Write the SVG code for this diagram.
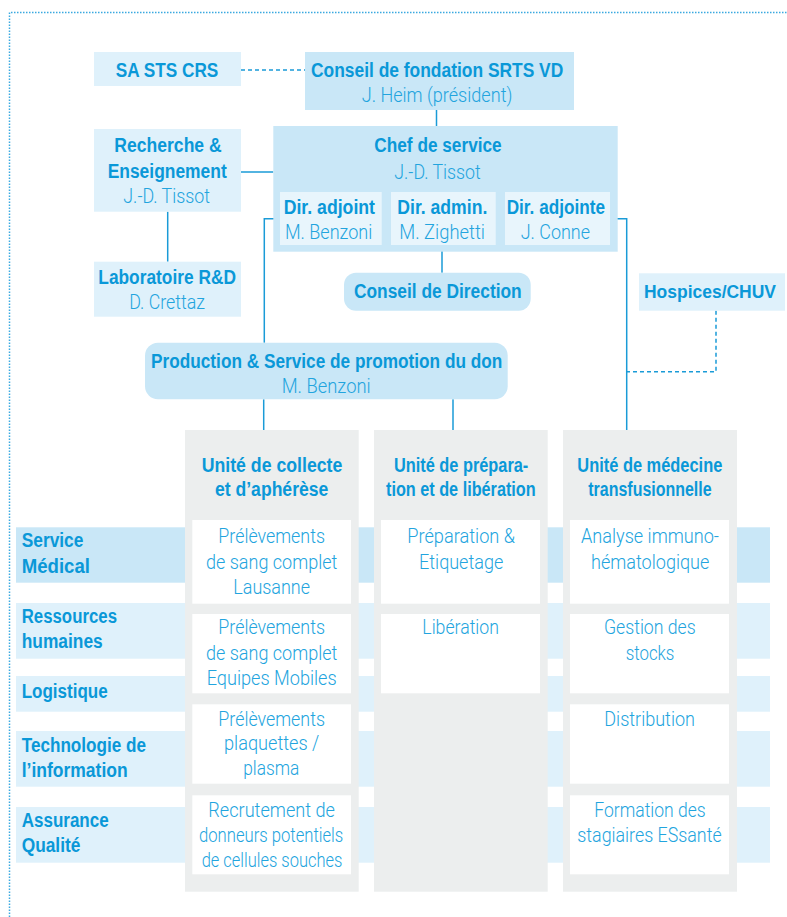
<svg xmlns="http://www.w3.org/2000/svg" width="787" height="917" viewBox="0 0 787 917">
<style>
.b{font-family:"Liberation Sans",Arial,sans-serif;font-weight:bold;font-size:20px;fill:#0a98d8}
.l{font-family:Roboto,"Liberation Sans",Arial,sans-serif;font-weight:300;font-size:19.5px;fill:#22a4de}
.med{fill:#c9e7f7}
.lt{fill:#dff1fb}
.sub{fill:#e8f5fc}
.grey{fill:#eceeee}
.cell{fill:#ffffff}
.ln{stroke:#1a9bd7;stroke-width:1.5;fill:none}
.dash{stroke:#1a9bd7;stroke-width:1.5;fill:none;stroke-dasharray:4 3}
.frame{stroke:#3aa9e0;stroke-width:1.5;fill:none;stroke-dasharray:1.5 1.5}
</style>
<rect width="787" height="917" fill="#ffffff"/>
<g id="frame">
<path class="frame" d="M9.5,917 V12.5 H787"/>
</g>
<g id="bands">
<rect class="med" x="16" y="527.3" width="754" height="55.4"/>
<rect class="lt" x="16" y="603" width="754" height="55.7"/>
<rect class="lt" x="16" y="676" width="754" height="35.7"/>
<rect class="lt" x="16" y="731" width="754" height="55.7"/>
<rect class="lt" x="16" y="807" width="754" height="55.7"/>
<text class="b" x="21.7" y="547.3" textLength="61.7" lengthAdjust="spacingAndGlyphs">Service</text>
<text class="b" x="21.7" y="572.7" textLength="68.3" lengthAdjust="spacingAndGlyphs">Médical</text>
<text class="b" x="21.7" y="622.7" textLength="95.3" lengthAdjust="spacingAndGlyphs">Ressources</text>
<text class="b" x="21.7" y="648.3" textLength="81" lengthAdjust="spacingAndGlyphs">humaines</text>
<text class="b" x="21.7" y="698.3" textLength="86" lengthAdjust="spacingAndGlyphs">Logistique</text>
<text class="b" x="21.7" y="751.7" textLength="124.3" lengthAdjust="spacingAndGlyphs">Technologie de</text>
<text class="b" x="21.7" y="776.7" textLength="106" lengthAdjust="spacingAndGlyphs">l’information</text>
<text class="b" x="21.7" y="826.7" textLength="87" lengthAdjust="spacingAndGlyphs">Assurance</text>
<text class="b" x="21.7" y="852.3" textLength="58.7" lengthAdjust="spacingAndGlyphs">Qualité</text>
</g>
<g id="connectors">
<line class="dash" x1="241" y1="70" x2="305" y2="70"/>
<line class="ln" x1="436.5" y1="110" x2="436.5" y2="126"/>
<line class="ln" x1="241" y1="172" x2="273.3" y2="172"/>
<line class="ln" x1="167.7" y1="211.7" x2="167.7" y2="261.7"/>
<line class="ln" x1="442" y1="245" x2="442" y2="272.7"/>
<path class="ln" d="M280,218.7 H264.3 V342.7"/>
<path class="ln" d="M610,218.7 H626.7 V430"/>
<path class="dash" d="M716,310.7 V371.7 H626.7"/>
<line class="ln" x1="263.7" y1="399.3" x2="263.7" y2="430"/>
<line class="ln" x1="453" y1="399.3" x2="453" y2="430"/>
</g>
<g id="sa-sts-crs">
<rect class="lt" x="94" y="52" width="147" height="34"/>
<text class="b" x="115.7" y="77.3" textLength="102.6" lengthAdjust="spacingAndGlyphs">SA STS CRS</text>
</g>
<g id="conseil-fondation">
<rect class="med" x="305" y="52" width="269" height="58"/>
<text class="b" x="311" y="77.3" textLength="252.3" lengthAdjust="spacingAndGlyphs">Conseil de fondation SRTS VD</text>
<text class="l" x="361.7" y="101.5" textLength="150.7" lengthAdjust="spacingAndGlyphs">J. Heim (président)</text>
</g>
<g id="recherche">
<rect class="lt" x="94" y="129" width="147" height="82.7"/>
<text class="b" x="114.3" y="152.3" textLength="107.4" lengthAdjust="spacingAndGlyphs">Recherche &amp;</text>
<text class="b" x="107.7" y="178" textLength="119" lengthAdjust="spacingAndGlyphs">Enseignement</text>
<text class="l" x="123.3" y="203.3" textLength="86.7" lengthAdjust="spacingAndGlyphs">J.-D. Tissot</text>
</g>
<g id="chef">
<rect class="med" x="273.3" y="126" width="344.4" height="125.7"/>
<text class="b" x="374.3" y="152.3" textLength="127.4" lengthAdjust="spacingAndGlyphs">Chef de service</text>
<text class="l" x="394.3" y="178.7" textLength="86.4" lengthAdjust="spacingAndGlyphs">J.-D. Tissot</text>
</g>
<g id="dir-adjoint">
<rect class="sub" x="280" y="192" width="101.7" height="53"/>
<text class="b" x="283.7" y="214" textLength="91.3" lengthAdjust="spacingAndGlyphs">Dir. adjoint</text>
<text class="l" x="285" y="239" textLength="87.3" lengthAdjust="spacingAndGlyphs">M. Benzoni</text>
</g>
<g id="dir-admin">
<rect class="sub" x="391" y="192" width="104.7" height="53"/>
<text class="b" x="397.3" y="214" textLength="90" lengthAdjust="spacingAndGlyphs">Dir. admin.</text>
<text class="l" x="399.3" y="239" textLength="85.7" lengthAdjust="spacingAndGlyphs">M. Zighetti</text>
</g>
<g id="dir-adjointe">
<rect class="sub" x="505" y="192" width="105" height="53"/>
<text class="b" x="506.7" y="214" textLength="98.3" lengthAdjust="spacingAndGlyphs">Dir. adjointe</text>
<text class="l" x="520.7" y="239" textLength="69.3" lengthAdjust="spacingAndGlyphs">J. Conne</text>
</g>
<g id="laboratoire">
<rect class="lt" x="94" y="261.7" width="147" height="55"/>
<text class="b" x="98.3" y="284.3" textLength="137.7" lengthAdjust="spacingAndGlyphs">Laboratoire R&amp;D</text>
<text class="l" x="129.3" y="309.3" textLength="75.7" lengthAdjust="spacingAndGlyphs">D. Crettaz</text>
</g>
<g id="conseil-direction">
<rect class="med" x="344" y="272.7" width="186.7" height="38" rx="12"/>
<text class="b" x="354" y="297.7" textLength="167.7" lengthAdjust="spacingAndGlyphs">Conseil de Direction</text>
</g>
<g id="hospices">
<rect class="lt" x="639" y="273.3" width="146" height="37.4"/>
<text class="b" x="644" y="297.7" style="font-size:18.5px" textLength="132" lengthAdjust="spacingAndGlyphs">Hospices/CHUV</text>
</g>
<g id="production">
<rect class="med" x="145" y="342.7" width="362.7" height="56.6" rx="13"/>
<text class="b" x="151" y="367.7" textLength="351.3" lengthAdjust="spacingAndGlyphs">Production &amp; Service de promotion du don</text>
<text class="l" x="281.7" y="392.7" textLength="89" lengthAdjust="spacingAndGlyphs">M. Benzoni</text>
</g>
<g id="unite-collecte">
<rect class="grey" x="185" y="430" width="173.7" height="461.7"/>
<text class="b" x="201.7" y="471.7" textLength="140.6" lengthAdjust="spacingAndGlyphs">Unité de collecte</text>
<text class="b" x="215" y="496" textLength="113.3" lengthAdjust="spacingAndGlyphs">et d’aphérèse</text>
<rect class="cell" x="192.3" y="520" width="158.7" height="83.7"/>
<text class="l" x="218.3" y="543.3" textLength="106.7" lengthAdjust="spacingAndGlyphs">Prélèvements</text>
<text class="l" x="206" y="569" textLength="131.3" lengthAdjust="spacingAndGlyphs">de sang complet</text>
<text class="l" x="233.3" y="594.3" textLength="76.7" lengthAdjust="spacingAndGlyphs">Lausanne</text>
<rect class="cell" x="192.3" y="614" width="158.7" height="79.3"/>
<text class="l" x="218.3" y="634" textLength="106.7" lengthAdjust="spacingAndGlyphs">Prélèvements</text>
<text class="l" x="206" y="659.7" textLength="131.3" lengthAdjust="spacingAndGlyphs">de sang complet</text>
<text class="l" x="206.7" y="685" textLength="130" lengthAdjust="spacingAndGlyphs">Equipes Mobiles</text>
<rect class="cell" x="192.3" y="704.3" width="158.7" height="79.4"/>
<text class="l" x="218.3" y="725.7" textLength="106.7" lengthAdjust="spacingAndGlyphs">Prélèvements</text>
<text class="l" x="224" y="750" textLength="95.3" lengthAdjust="spacingAndGlyphs">plaquettes /</text>
<text class="l" x="243.3" y="775" textLength="56" lengthAdjust="spacingAndGlyphs">plasma</text>
<rect class="cell" x="192.3" y="795.3" width="158.7" height="79"/>
<text class="l" x="208.3" y="816.7" textLength="126.7" lengthAdjust="spacingAndGlyphs">Recrutement de</text>
<text class="l" x="199" y="841.7" textLength="144.3" lengthAdjust="spacingAndGlyphs">donneurs potentiels</text>
<text class="l" x="201.7" y="866.7" textLength="140.7" lengthAdjust="spacingAndGlyphs">de cellules souches</text>
</g>
<g id="unite-preparation">
<rect class="grey" x="374" y="430" width="173.7" height="461.7"/>
<text class="b" x="394" y="471.7" textLength="134.3" lengthAdjust="spacingAndGlyphs">Unité de prépara-</text>
<text class="b" x="386" y="496" textLength="149.7" lengthAdjust="spacingAndGlyphs">tion et de libération</text>
<rect class="cell" x="381" y="520" width="159" height="83.7"/>
<text class="l" x="407.3" y="543.3" textLength="107.7" lengthAdjust="spacingAndGlyphs">Préparation &amp;</text>
<text class="l" x="419" y="569" textLength="84.3" lengthAdjust="spacingAndGlyphs">Etiquetage</text>
<rect class="cell" x="381" y="614" width="159" height="79.3"/>
<text class="l" x="422.3" y="634" textLength="76.7" lengthAdjust="spacingAndGlyphs">Libération</text>
</g>
<g id="unite-medecine">
<rect class="grey" x="563" y="430" width="174" height="461.7"/>
<text class="b" x="577.3" y="471.7" textLength="145" lengthAdjust="spacingAndGlyphs">Unité de médecine</text>
<text class="b" x="588.3" y="496" textLength="123.3" lengthAdjust="spacingAndGlyphs">transfusionnelle</text>
<rect class="cell" x="570" y="520" width="159" height="83.7"/>
<text class="l" x="581" y="543.3" textLength="138" lengthAdjust="spacingAndGlyphs">Analyse immuno-</text>
<text class="l" x="591" y="569" textLength="118.3" lengthAdjust="spacingAndGlyphs">hématologique</text>
<rect class="cell" x="570" y="614" width="159" height="79.3"/>
<text class="l" x="604" y="634" textLength="91.7" lengthAdjust="spacingAndGlyphs">Gestion des</text>
<text class="l" x="625.7" y="659.7" textLength="48.7" lengthAdjust="spacingAndGlyphs">stocks</text>
<rect class="cell" x="570" y="704.3" width="159" height="79.4"/>
<text class="l" x="604.3" y="725.7" textLength="90.7" lengthAdjust="spacingAndGlyphs">Distribution</text>
<rect class="cell" x="570" y="795.3" width="159" height="79"/>
<text class="l" x="594.3" y="816.7" textLength="111.3" lengthAdjust="spacingAndGlyphs">Formation des</text>
<text class="l" x="577.3" y="841.7" textLength="144.3" lengthAdjust="spacingAndGlyphs">stagiaires ESsanté</text>
</g>
</svg>
